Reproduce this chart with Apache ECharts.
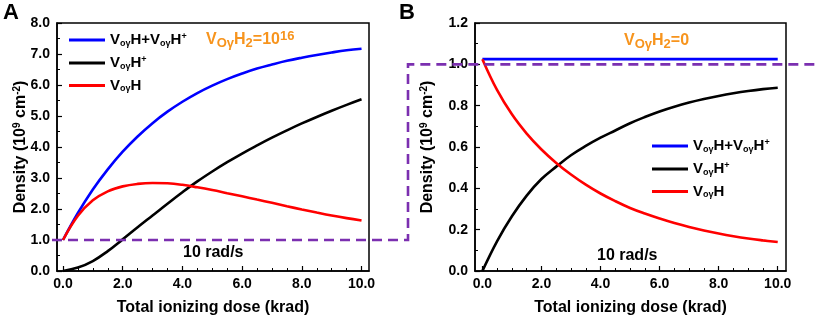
<!DOCTYPE html>
<html>
<head>
<meta charset="utf-8">
<script src="https://cdn.jsdelivr.net/npm/echarts@6/dist/echarts.min.js"></script>
<style>
  html, body { margin: 0; padding: 0; background: #fff; }
  #chart { width: 816px; height: 321px; }
</style>
</head>
<body>
<div id="chart"></div>
<script>
// dose values (krad) shared by every curve
const dose = [0, 0.5, 1, 1.5, 2, 2.5, 3, 3.5, 4, 4.5, 5, 5.5, 6, 6.5, 7, 7.5, 8, 8.5, 9, 9.5, 10];

// panel A : VoyH2 = 1e16
const totalA = [1.00, 1.87, 2.63, 3.28, 3.85, 4.34, 4.77, 5.14, 5.46, 5.74, 5.98, 6.19, 6.37, 6.53, 6.66, 6.78, 6.88, 6.97, 7.05, 7.12, 7.17];
const chargedA = [0.00, 0.11, 0.32, 0.64, 1.02, 1.41, 1.79, 2.17, 2.54, 2.89, 3.21, 3.51, 3.79, 4.05, 4.30, 4.535, 4.76, 4.97, 5.17, 5.36, 5.54];
const neutralA = [1.00, 1.78, 2.28, 2.57, 2.73, 2.81, 2.84, 2.83, 2.78, 2.70, 2.61, 2.51, 2.41, 2.305, 2.20, 2.09, 1.985, 1.885, 1.79, 1.705, 1.63];

// panel B : VoyH2 = 0
const totalB = [1.025, 1.025, 1.025, 1.025, 1.025, 1.025, 1.025, 1.025, 1.025, 1.025, 1.025, 1.025, 1.025, 1.025, 1.025, 1.025, 1.025, 1.025, 1.025, 1.025, 1.025];
const chargedB = [0.00, 0.145, 0.265, 0.365, 0.445, 0.505, 0.56, 0.605, 0.645, 0.68, 0.715, 0.745, 0.772, 0.795, 0.815, 0.832, 0.847, 0.86, 0.871, 0.88, 0.887];
const neutralB = [1.025, 0.875, 0.758, 0.665, 0.588, 0.523, 0.467, 0.418, 0.375, 0.338, 0.305, 0.278, 0.254, 0.232, 0.213, 0.196, 0.181, 0.168, 0.157, 0.148, 0.14];

// tick positions
const xMajorTicks = [0, 2, 4, 6, 8, 10];
const xMinorTicks = [0.5, 1, 1.5, 2.5, 3, 3.5, 4.5, 5, 5.5, 6.5, 7, 7.5, 8.5, 9, 9.5];

const seriesNames = ['total', 'charged', 'neutral'];
const seriesColors = ['#0000ff', '#000000', '#ff0000'];
const legendLabels = {
  total: '{n|V}{s|oγ}{n|H+V}{s|oγ}{n|H}{p|+}',
  charged: '{n|V}{s|oγ}{n|H}{p|+}',
  neutral: '{n|V}{s|oγ}{n|H}'
};

const FONT = '"Liberation Sans", Arial, sans-serif';

const legendRich = {
  n: { fontSize: 15, fontWeight: 'bold', fontFamily: FONT, color: '#000', lineHeight: 16 },
  s: { fontSize: 9, fontWeight: 'bold', fontFamily: FONT, color: '#000', lineHeight: 9, verticalAlign: 'bottom' },
  p: { fontSize: 9, fontWeight: 'bold', fontFamily: FONT, color: '#000', lineHeight: 9, verticalAlign: 'top' }
};

const orangeRich = {
  m: { fontSize: 16, fontWeight: 'bold', fontFamily: FONT, color: '#f7941d', lineHeight: 20 },
  s: { fontSize: 13, fontWeight: 'bold', fontFamily: FONT, color: '#f7941d', lineHeight: 13, verticalAlign: 'bottom' },
  p: { fontSize: 13, fontWeight: 'bold', fontFamily: FONT, color: '#f7941d', lineHeight: 13, verticalAlign: 'top' }
};

const nameRich = {
  n: { fontSize: 16, fontWeight: 'bold', fontFamily: FONT, color: '#000', lineHeight: 18 },
  p: { fontSize: 10, fontWeight: 'bold', fontFamily: FONT, color: '#000', lineHeight: 10, verticalAlign: 'top' }
};

const axisLine = { show: true, onZero: false, lineStyle: { color: '#000', width: 1.5 } };
const labelStyle = { color: '#000', fontSize: 14, fontWeight: 'bold', fontFamily: FONT };

function pairs(xs, ys) {
  return xs.map((x, i) => [x, ys[i]]);
}

function xAxes(gridIndex, min, max) {
  return [
    {
      gridIndex, type: 'value', min, max,
      axisLine,
      splitLine: { show: false },
      axisTick: { show: true, inside: true, length: 5, customValues: xMajorTicks, lineStyle: { color: '#000', width: 1.2 } },
      axisLabel: {
        ...labelStyle, margin: 6, customValues: xMajorTicks,
        formatter: v => v.toFixed(1)
      },
      name: 'Total ionizing dose (krad)',
      nameLocation: 'middle',
      nameGap: 29,
      nameTextStyle: { color: '#000', fontSize: 16, fontWeight: 'bold', fontFamily: FONT }
    },
    {
      // minor ticks only
      gridIndex, type: 'value', min, max, position: 'bottom',
      axisLine: { show: false },
      splitLine: { show: false },
      axisLabel: { show: false },
      axisTick: { show: true, inside: true, length: 3, customValues: xMinorTicks, lineStyle: { color: '#000', width: 1 } }
    }
  ];
}

function yAxis(gridIndex, max, interval, nameGap) {
  return {
    gridIndex, type: 'value', min: 0, max, interval,
    axisLine,
    splitLine: { show: false },
    axisTick: { show: true, inside: true, length: 5, lineStyle: { color: '#000', width: 1.2 } },
    minorTick: { show: true, splitNumber: 2, length: 3, lineStyle: { color: '#000', width: 1 } },
    axisLabel: { ...labelStyle, margin: 7, formatter: v => v.toFixed(1) },
    name: '{n|Density (10}{p|9}{n| cm}{p|-2}{n|)}',
    nameLocation: 'middle',
    nameRotate: 90,
    nameGap,
    nameMoveOverlap: false,
    nameTextStyle: { rich: nameRich }
  };
}

function lineSeries(name, xAxisIndex, yAxisIndex, ys, color) {
  return {
    type: 'line', name, xAxisIndex, yAxisIndex,
    data: pairs(dose, ys),
    showSymbol: false, symbol: 'none',
    smooth: 0.4,
    lineStyle: { color, width: 2.6 },
    itemStyle: { color },
    animation: false
  };
}

function legendFor(left, top) {
  return {
    orient: 'vertical', left, top, padding: 0,
    icon: 'rect', itemWidth: 36, itemHeight: 3, itemGap: 7,
    data: seriesNames,
    formatter: name => legendLabels[name],
    textStyle: { rich: legendRich },
    selectedMode: false
  };
}

const chart = echarts.init(document.getElementById('chart'), null, { renderer: 'canvas' });

chart.setOption({
  animation: false,
  backgroundColor: '#fff',
  grid: [
    { left: 57, right: 447, top: 23, bottom: 49, show: true, borderColor: '#000', borderWidth: 1.5 },
    { left: 475, right: 30, top: 23, bottom: 49, show: true, borderColor: '#000', borderWidth: 1.5 }
  ],
  xAxis: [...xAxes(0, -0.2, 10.25), ...xAxes(1, -0.25, 10.28)],
  yAxis: [yAxis(0, 8, 1, 27), yAxis(1, 1.2, 0.2, 38)],
  legend: [legendFor(69, 32), legendFor(652, 138)],
  title: [
    { text: 'A', left: 3, top: 2, padding: 0, textStyle: { fontSize: 22, fontWeight: 'bold', fontFamily: FONT, color: '#000' } },
    { text: 'B', left: 399, top: 2, padding: 0, textStyle: { fontSize: 22, fontWeight: 'bold', fontFamily: FONT, color: '#000' } },
    { text: '{m|V}{s|Oγ}{m|H}{s|2}{m|=10}{p|16}', left: 206, top: 30, padding: 0, textStyle: { rich: orangeRich } },
    { text: '{m|V}{s|Oγ}{m|H}{s|2}{m|=0}', left: 624, top: 31, padding: 0, textStyle: { rich: orangeRich } },
    { text: '10 rad/s', left: 183, top: 245, padding: 0, textStyle: { fontSize: 16, fontWeight: 'bold', fontFamily: FONT, color: '#000' } },
    { text: '10 rad/s', left: 597, top: 248, padding: 0, textStyle: { fontSize: 16, fontWeight: 'bold', fontFamily: FONT, color: '#000' } }
  ],
  series: [
    lineSeries('total', 0, 0, totalA, seriesColors[0]),
    lineSeries('charged', 0, 0, chargedA, seriesColors[1]),
    lineSeries('neutral', 0, 0, neutralA, seriesColors[2]),
    lineSeries('total', 2, 1, totalB, seriesColors[0]),
    lineSeries('charged', 2, 1, chargedB, seriesColors[1]),
    lineSeries('neutral', 2, 1, neutralB, seriesColors[2])
  ]
});

// purple dashed guide linking the 1.0 level of both panels
const leftPt = chart.convertToPixel({ xAxisIndex: 0, yAxisIndex: 0 }, [-0.2, 1.0]);
const rightPt = chart.convertToPixel({ xAxisIndex: 2, yAxisIndex: 1 }, [0, 1.0]);
const midX = 408;
chart.setOption({
  graphic: [{
    type: 'polyline',
    z: 100,
    silent: true,
    shape: { points: [[leftPt[0] - 5, leftPt[1]], [midX, leftPt[1]], [midX, rightPt[1]], [chart.getWidth(), rightPt[1]]] },
    style: { stroke: '#7b2fb0', lineWidth: 2.6, lineDash: [10, 6], fill: null }
  }]
});
</script>
</body>
</html>
